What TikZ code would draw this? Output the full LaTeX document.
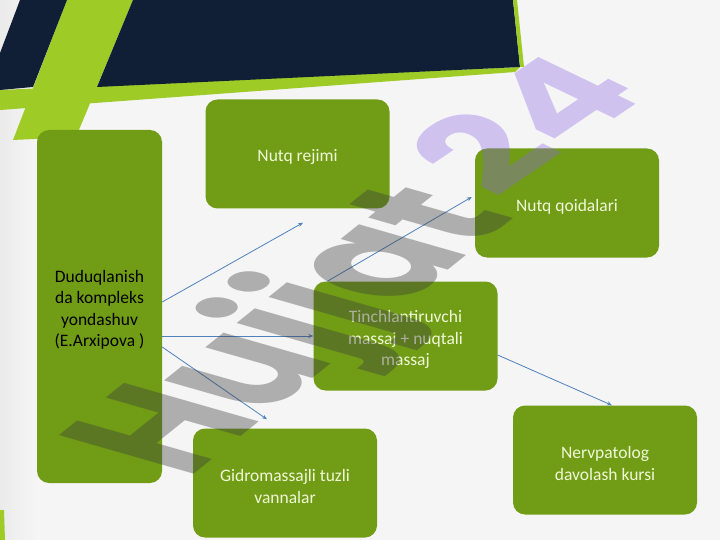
\documentclass[tikz,border=0pt]{standalone}
\usepackage{fontspec}
\setmainfont{Carlito}
\newfontfamily\wmfont{Poppins}
\usetikzlibrary{arrows.meta,calc}
\definecolor{bggray}{RGB}{245,245,245}
\definecolor{navy}{RGB}{17,31,54}
\definecolor{lime}{RGB}{158,203,38}
\definecolor{boxgreen}{RGB}{113,156,22}
\definecolor{paletext}{RGB}{240,248,215}
\definecolor{arrowblue}{RGB}{79,129,189}
\definecolor{wmgray}{RGB}{60,60,60}
\definecolor{wmpurple}{RGB}{140,100,230}
\tikzset{
	greenbox/.style={fill=boxgreen, rounded corners=12pt, minimum width=184pt, minimum height=109pt, text width=172pt, align=flush center, text=paletext, inner sep=0pt, font=\fontsize{17.5}{21.5}\selectfont, execute at begin node={\rule{0pt}{19pt}}},
	bluearrow/.style={draw=arrowblue, line width=0.8pt, -{Stealth[length=5pt, width=4pt]}},
	wmtext/.style={transform shape, inner sep=0pt, anchor=base west, font=\wmfont\bfseries\fontsize{100}{100}\selectfont}
}

\begin{document}
\begin{tikzpicture}[x=1pt, y=-1pt]
			%%%%% BACKGROUND %%%%%
			
			\fill[color=bggray] (0, 0) rectangle (720, 540);
			\useasboundingbox (0, 0) rectangle (720, 540);
			\shade[left color=black!8, right color=bggray] (0, 0) rectangle (36, 540);
			
			%%%%% BANNER %%%%%
			
			\fill[color=lime] (0, 90) -- (520, 67) -- (515, 72) -- (0, 110) -- cycle;
			\fill[color=lime] (67, 0) -- (133, 0) -- (76, 137) -- (13, 140) -- cycle;
			\fill[color=navy] (133, 0) -- (513, 0) -- (520, 67) -- (97, 87) -- cycle;
			\fill[color=navy] (20, 0) -- (67, 0) -- (33, 87) -- (0, 90) -- (0, 53) -- cycle;
			\fill[color=lime] (513, 0) -- (517, 0) -- (524, 67) -- (520, 67) -- cycle;
			\fill[color=lime] (0, 510) -- (4, 510) -- (5, 540) -- (0, 540) -- cycle;
			
			%%%%% BOXES %%%%%
			
			\node[greenbox, minimum width=125pt, minimum height=353pt, text width=115pt, text=black] (dudu) at (99.5, 306.5) {Duduqlanish\\ da kompleks\\ yondashuv\\ (E.Arxipova )};
			\node[greenbox] (rejim) at (297.5, 154) {Nutq rejimi};
			\node[greenbox] (qoida) at (567, 203) {Nutq qoidalari};
			\node[greenbox] (tinch) at (405.5, 336) {Tinchlantiruvchi\\ massaj + nuqtali\\ massaj};
			\node[greenbox] (nerv) at (605, 460) {Nervpatolog\\ davolash kursi};
			\node[greenbox] (gidro) at (285, 483) {Gidromassajli tuzli\\ vannalar};
			
			%%%%% ARROWS %%%%%
			
			\coordinate (rejimtip) at ([xshift=5.5pt, yshift=-14pt]rejim.south);
			\coordinate (gidrotip) at ([xshift=-18pt, yshift=9pt]gidro.north);
			\draw[bluearrow] ([yshift=4.5pt]dudu.east) -- (rejimtip);
			\draw[bluearrow] ([yshift=-29.5pt]dudu.east) -- (tinch.west);
			\draw[bluearrow] ([yshift=-40.5pt]dudu.east) -- (gidrotip);
			\draw[bluearrow] ([xshift=14pt]tinch.north west) -- ([xshift=-3pt, yshift=6pt]qoida.west);
			\draw[bluearrow] ([yshift=-19pt]tinch.east) -- ([xshift=7pt]nerv.north);
			
			%%%%% WATERMARK %%%%%
			
			\begin{scope}[shift={(187, 480)}]
				\node[wmtext, cm={1.07, 0.86, -1.92, 0.55, (0, 0)}, text=wmgray, text opacity=0.38] (wmhu) at (0, 0) {Hujjat};
			\end{scope}
			\begin{scope}[shift={(495, 200)}]
				\node[wmtext, cm={1.25, 0.85, -1.35, 0.65, (0, 0)}, text=wmpurple, text opacity=0.35] (wmnum) at (0, 0) {24};
			\end{scope}
			
		\end{tikzpicture}
\end{document}
